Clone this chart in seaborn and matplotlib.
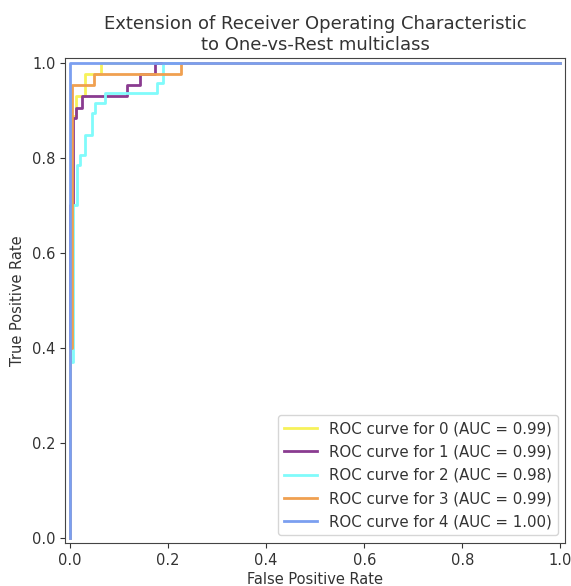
import matplotlib
matplotlib.use("Agg")
import matplotlib.pyplot as plt
import numpy as np
import pandas as pd
import seaborn as sns

# One-vs-rest ROC curves (step vertices: false positive rate, true positive rate)
class_names = ["0", "1", "2", "3", "4"]
auc_values = [0.99, 0.99, 0.98, 0.99, 1.00]

fpr_0 = [0.0, 0.0, 0.004, 0.004, 0.013, 0.013, 0.031, 0.031, 0.063, 0.063, 1.0]
tpr_0 = [0.0, 0.42, 0.42, 0.887, 0.887, 0.93, 0.93, 0.977, 0.977, 1.0, 1.0]

fpr_1 = [0.0, 0.0, 0.006, 0.006, 0.013, 0.013, 0.024, 0.024, 0.116, 0.116,
         0.143, 0.143, 0.173, 0.173, 1.0]
tpr_1 = [0.0, 0.70, 0.70, 0.884, 0.884, 0.905, 0.905, 0.93, 0.93, 0.953,
         0.953, 0.977, 0.977, 1.0, 1.0]

fpr_2 = [0.0, 0.0, 0.006, 0.006, 0.014, 0.014, 0.02, 0.02, 0.031, 0.031,
         0.045, 0.045, 0.05, 0.05, 0.071, 0.071, 0.177, 0.177, 0.19, 0.19, 1.0]
tpr_2 = [0.0, 0.37, 0.37, 0.70, 0.70, 0.785, 0.785, 0.806, 0.806, 0.848,
         0.848, 0.895, 0.895, 0.915, 0.915, 0.936, 0.936, 0.957, 0.957, 1.0, 1.0]

fpr_3 = [0.0, 0.0, 0.004, 0.004, 0.048, 0.048, 0.227, 0.227, 1.0]
tpr_3 = [0.0, 0.40, 0.40, 0.954, 0.954, 0.977, 0.977, 1.0, 1.0]

fpr_4 = [0.0, 0.0, 1.0]
tpr_4 = [0.0, 1.0, 1.0]

line_colors = ["#f7f25a", "#8a3b90", "#80fbfb", "#f0a050", "#7b9ff0"]

fprs = [fpr_0, fpr_1, fpr_2, fpr_3, fpr_4]
tprs = [tpr_0, tpr_1, tpr_2, tpr_3, tpr_4]

labels = [f"ROC curve for {c} (AUC = {a:.2f})" for c, a in zip(class_names, auc_values)]
frames = []
for lab, f, t in zip(labels, fprs, tprs):
    frames.append(pd.DataFrame({"fpr": f, "tpr": t, "curve": lab}))
df = pd.concat(frames, ignore_index=True)

fig = plt.figure(figsize=(5.71, 5.86), dpi=100)
ax = fig.add_axes([0.114, 0.0735, 0.876, 0.8275])

sns.lineplot(data=df, x="fpr", y="tpr", hue="curve", hue_order=labels,
             palette=line_colors, sort=False, estimator=None, units="curve",
             linewidth=2, ax=ax)

ax.set_xlim(-0.01, 1.01)
ax.set_ylim(-0.01, 1.01)
ax.set_xticks([0.0, 0.2, 0.4, 0.6, 0.8, 1.0])
ax.set_yticks([0.0, 0.2, 0.4, 0.6, 0.8, 1.0])
ax.tick_params(labelsize=10.5, colors="#333333")
for s in ax.spines.values():
    s.set_color("#444444")

ax.set_xlabel("False Positive Rate", fontsize=10.5, color="#333333", labelpad=3)
ax.set_ylabel("True Positive Rate", fontsize=10.5, color="#333333", labelpad=5)
ax.set_title("Extension of Receiver Operating Characteristic\nto One-vs-Rest multiclass",
             fontsize=13, color="#333333", pad=6)

leg = ax.legend(loc="lower right", fontsize=10.8, handlelength=2.2,
                labelspacing=0.55, framealpha=0.8)
for txt in leg.get_texts():
    txt.set_color("#333333")

fig.savefig("out.png", dpi=100)
